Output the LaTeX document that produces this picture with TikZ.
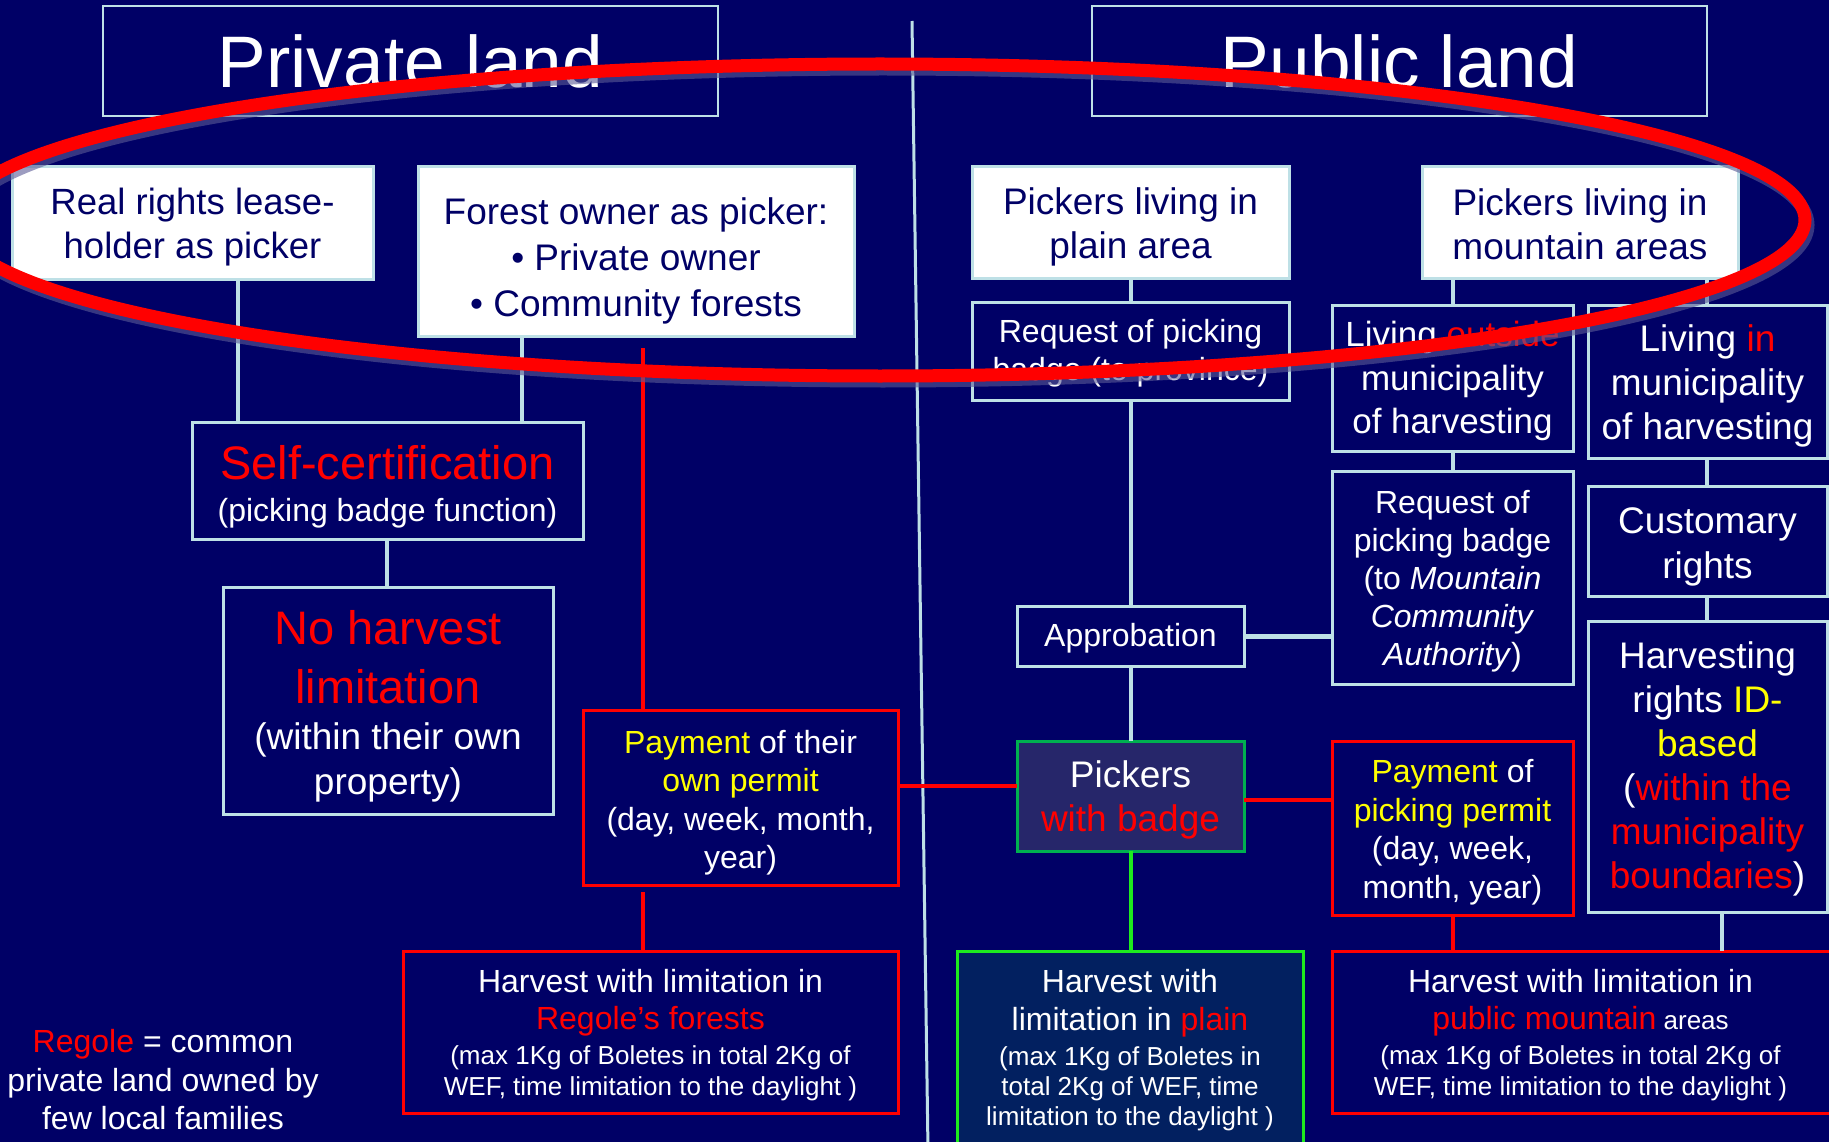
\documentclass[tikz,border=0pt]{standalone}
\usepackage{fontspec}
\setmainfont{Liberation Sans}
\definecolor{bg}{RGB}{0,0,102}
\definecolor{lineblue}{RGB}{190,224,230}
\definecolor{navy}{RGB}{0,0,102}
\definecolor{badgefill}{RGB}{38,38,106}
\definecolor{plainfill}{RGB}{2,32,96}
\definecolor{badgegreen}{RGB}{0,176,80}
\definecolor{brightgreen}{RGB}{30,235,30}
\definecolor{shadowc}{RGB}{90,90,150}
\definecolor{ylw}{RGB}{255,255,0}
\newcommand\fz[2]{\fontsize{#1}{#2}\selectfont}
\begin{document}
\begin{tikzpicture}[x=1pt,y=-1pt,
  every node/.style={inner sep=0pt, outer sep=0pt, align=center},
  box/.style={draw=lineblue, line width=3pt, fill=bg, anchor=north west},
  wbox/.style={box, fill=white},
  rbox/.style={box, draw=red},
  btext/.style={text=white},
  wtext/.style={text=navy},
  conn/.style={draw=lineblue, line width=3.5pt},
  rconn/.style={draw=red, line width=4.5pt},
  gconn/.style={draw=brightgreen, line width=4.5pt}]
\useasboundingbox (0,0) rectangle (1829,1142);
\clip (0,0) rectangle (1829,1142);
\fill[bg] (0,0) rectangle (1829,1142);

% divider
\coordinate (divtop) at (912,21);
\coordinate (divbot) at (928,1150);
\draw[conn, line width=3pt] (divtop) -- (divbot);

% headers
\node[box, minimum width=615, minimum height=110, line width=2.5pt] (privland) at (103,6) {};
\node[btext, font=\fz{73}{80}] (privland-t) at (privland.center) {Private land};
\node[box, minimum width=615, minimum height=110, line width=2.5pt] (publand) at (1092,6) {};
\node[btext, font=\fz{73}{80}] (publand-t) at (publand.center) {Public land};

% private land
\node[wbox, minimum width=361, minimum height=112] (realrights) at (12,167) {};
\node[wtext, font=\fz{36.5}{44}] (realrights-t) at ([shift={(0,4)}]realrights.center) {Real rights lease-\\holder as picker};
\node[wbox, minimum width=436, minimum height=169] (forestowner) at (418,167) {};
\node[wtext, font=\fz{37}{46}] (forestowner-t) at ([shift={(0,9)}]forestowner.center) {Forest owner as picker:\\\textbullet\ Private owner\\\textbullet\ Community forests};
\node[box, minimum width=391, minimum height=117] (selfcert) at (192,422) {};
\node[btext, font=\fz{32}{42}] (selfcert-t) at ([shift={(0,6)}]selfcert.center) {{\fz{47}{42}\color{red}Self-certification}\\(picking badge function)};
\node[box, minimum width=330, minimum height=227] (noharv) at (223,587) {};
\node[btext, font=\fz{37}{45}] (noharv-t) at ([shift={(0,6)}]noharv.center) {{\fz{47}{45}\color{red}No harvest}\\[14pt]{\fz{47}{45}\color{red}limitation}\\[1pt](within their own\\property)};
\node[rbox, minimum width=315, minimum height=175] (payown) at (583,710) {};
\node[btext, font=\fz{32}{38.5}] (payown-t) at ([shift={(0,5)}]payown.center) {\textcolor{ylw}{Payment} of their\\\textcolor{ylw}{own permit}\\(day, week, month,\\year)};
\node[rbox, minimum width=495, minimum height=162] (harvregole) at (403,951) {};
\node[btext, font=\fz{26}{31}] (harvregole-t) at ([shift={(0,3.5)}]harvregole.center) {{\fz{32}{31}Harvest with limitation in}\\[6pt]{\fz{32}{31}\color{red}Regole’s forests}\\[4pt](max 1Kg of Boletes in total 2Kg of\\WEF, time limitation to the daylight )};
\node[btext, font=\fz{32}{38.5}] (regnote) at (163,1080) {\textcolor{red}{Regole} = common\\private land owned by\\few local families};

% public land
\node[wbox, minimum width=317, minimum height=111] (pplain) at (972,167) {};
\node[wtext, font=\fz{37}{44}] (pplain-t) at ([shift={(0,4.5)}]pplain.center) {Pickers living in\\plain area};
\node[wbox, minimum width=316, minimum height=111] (pmount) at (1422,167) {};
\node[wtext, font=\fz{37}{44}] (pmount-t) at ([shift={(0,1.5)}]pmount.center) {Pickers living in\\mountain areas};
\node[box, minimum width=317, minimum height=98] (reqprov) at (972,302) {};
\node[btext, font=\fz{32}{38}] (reqprov-t) at ([shift={(0,2)}]reqprov.center) {Request of picking\\badge (to province)};
\node[box, minimum width=241, minimum height=146] (livout) at (1332,305) {};
\node[btext, font=\fz{35}{43.5}] (livout-t) at ([shift={(0,3)}]livout.center) {Living \textcolor{red}{outside}\\municipality\\of harvesting};
\node[box, minimum width=239, minimum height=153] (livin) at (1588,305) {};
\node[btext, font=\fz{37}{44}] (livin-t) at ([shift={(0,4)}]livin.center) {Living \textcolor{red}{in}\\municipality\\of harvesting};
\node[box, minimum width=241, minimum height=213] (reqmca) at (1332,471) {};
\node[btext, font=\fz{32}{38}] (reqmca-t) at ([shift={(0,4)}]reqmca.center) {Request of\\picking badge\\(to \textit{Mountain}\\\textit{Community}\\\textit{Authority})};
\node[box, minimum width=239, minimum height=110] (custom) at (1588,486) {};
\node[btext, font=\fz{37}{45}] (custom-t) at ([shift={(0,6)}]custom.center) {Customary\\rights};
\node[box, minimum width=239, minimum height=291] (harvrights) at (1588,621) {};
\node[btext, font=\fz{37}{44}] (harvrights-t) at ([shift={(0,2)}]harvrights.center) {Harvesting\\rights \textcolor{ylw}{ID-}\\\textcolor{ylw}{based}\\(\textcolor{red}{within the}\\\textcolor{red}{municipality}\\\textcolor{red}{boundaries})};
\node[box, minimum width=227, minimum height=60] (approb) at (1017,606) {};
\node[btext, font=\fz{32}{38}] (approb-t) at ([shift={(0,2)}]approb.center) {Approbation};
\node[box, draw=badgegreen, fill=badgefill, minimum width=227, minimum height=110] (badge) at (1017,741) {};
\node[btext, font=\fz{37}{44}] (badge-t) at ([shift={(0,4)}]badge.center) {Pickers\\\textcolor{red}{with badge}};
\node[rbox, minimum width=241, minimum height=174] (paypermit) at (1332,741) {};
\node[btext, font=\fz{32}{38.5}] (paypermit-t) at ([shift={(0,4)}]paypermit.center) {\textcolor{ylw}{Payment} of\\\textcolor{ylw}{picking permit}\\(day, week,\\month, year)};
\node[box, draw=brightgreen, fill=plainfill, minimum width=346, minimum height=199] (harvplain) at (957,951) {};
\node[btext, font=\fz{26}{30}] (harvplain-t) at (harvplain.center) {{\fz{32}{30}Harvest with}\\[8pt]{\fz{32}{30}limitation in \textcolor{red}{plain}}\\[5pt](max 1Kg of Boletes in\\total 2Kg of WEF, time\\limitation to the daylight )};
\node[rbox, minimum width=503, minimum height=162] (harvmount) at (1332,951) {};
\node[btext, font=\fz{26}{31}] (harvmount-t) at ([shift={(-3,3.5)}]harvmount.center) {{\fz{32}{31}Harvest with limitation in}\\[6pt]{\fz{32}{31}\textcolor{red}{public mountain}} areas\\[4pt](max 1Kg of Boletes in total 2Kg of\\WEF, time limitation to the daylight )};

% x / y guide coordinates
\coordinate (c238) at (238,0);
\coordinate (c522) at (522,0);
\coordinate (c387) at (387,0);
\coordinate (c1131) at (1131,0);
\coordinate (c1453) at (1453,0);
\coordinate (c1707) at (1707,0);
\coordinate (c1722) at (1722,0);
\coordinate (c786) at (0,786);
\coordinate (c800) at (0,800);
\coordinate (c636) at (0,636);
\coordinate (redtop) at (643,348);
\coordinate (redmid) at (643,892);

% connectors
\draw[conn] (realrights.south -| c238) -- (selfcert.north -| c238);
\draw[conn] (forestowner.south -| c522) -- (selfcert.north -| c522);
\draw[conn] (selfcert.south -| c387) -- (noharv.north -| c387);
\draw[rconn] (redtop) -- (payown.north -| redtop);
\draw[rconn] (redmid) -- (harvregole.north -| redmid);
\draw[rconn] (payown.east |- c786) -- (badge.west |- c786);
\draw[conn] (pplain.south -| c1131) -- (reqprov.north -| c1131);
\draw[conn] (reqprov.south -| c1131) -- (approb.north -| c1131);
\draw[conn] (approb.south -| c1131) -- (badge.north -| c1131);
\draw[gconn] (badge.south -| c1131) -- (harvplain.north -| c1131);
\draw[conn, line width=5pt] (approb.east |- c636) -- (reqmca.west |- c636);
\draw[rconn] (badge.east |- c800) -- (paypermit.west |- c800);
\draw[conn] (pmount.south -| c1453) -- (livout.north -| c1453);
\draw[conn] (pmount.south -| c1707) -- (livin.north -| c1707);
\draw[conn] (livout.south -| c1453) -- (reqmca.north -| c1453);
\draw[conn] (livin.south -| c1707) -- (custom.north -| c1707);
\draw[conn] (custom.south -| c1707) -- (harvrights.north -| c1707);
\draw[rconn] (paypermit.south -| c1453) -- (harvmount.north -| c1453);
\draw[conn] (harvrights.south -| c1722) -- (harvmount.north -| c1722);

% red ellipse with shadow
\coordinate (ellc) at (880,220);
\draw[draw=shadowc, line width=13pt, opacity=0.6] ([shift={(3,5)}]ellc) ellipse [x radius=925, y radius=156];
\draw[red, line width=13pt] (ellc) ellipse [x radius=925, y radius=156];
\end{tikzpicture}
\end{document}
